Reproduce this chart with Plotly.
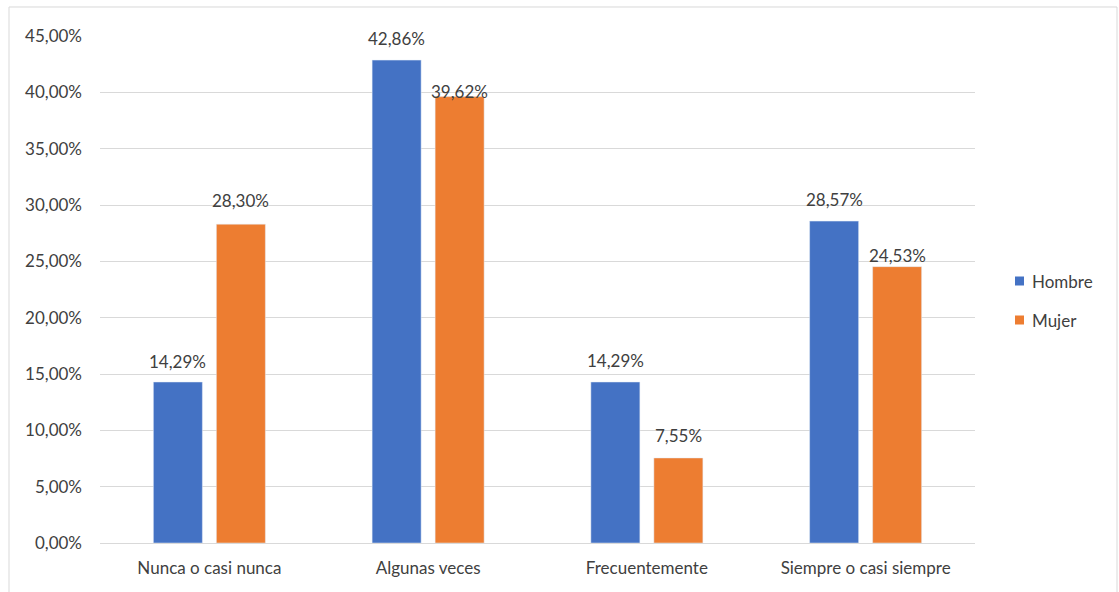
import plotly.graph_objects as go

categorias = ["Nunca o casi nunca", "Algunas veces", "Frecuentemente", "Siempre o casi siempre"]
hombre = [14.29, 42.86, 14.29, 28.57]
mujer = [28.30, 39.62, 7.55, 24.53]
ticks_y = [0, 5, 10, 15, 20, 25, 30, 35, 40, 45]
series = [("Hombre", hombre, "#4472C4"), ("Mujer", mujer, "#ED7D31")]

# Separación vertical (px) de cada etiqueta respecto al extremo de su barra
ajuste_etiquetas = {"Hombre": [8.5, 9.5, 9, 9], "Mujer": [11, -7, 10, -1]}

TEXTO = "#404040"
FUENTE = "Lato"
TAM = 17


def pct(v):
    return f"{v:.2f}%".replace(".", ",")


fig = go.Figure()
for nombre, valores, color in series:
    fig.add_trace(go.Bar(x=categorias, y=valores, name=nombre,
                         marker_color=color, showlegend=False))

# Etiquetas de datos sobre cada barra
for (nombre, valores, color), desplaz in zip(series, (-31.5, 31.5)):
    for cat, val, dy in zip(categorias, valores, ajuste_etiquetas[nombre]):
        fig.add_annotation(x=cat, y=val, text=pct(val),
                           showarrow=False, xshift=desplaz, yshift=dy,
                           yanchor="bottom",
                           font=dict(family=FUENTE, size=TAM, color=TEXTO))

# Leyenda a la derecha
for i, (nombre, valores, color) in enumerate(series):
    yc = (543 - (281 + 39 * i)) / 507
    x0 = (1015 - 100) / 875
    x1 = (1024 - 100) / 875
    h = 4.5 / 507
    fig.add_shape(type="rect", xref="paper", yref="paper",
                  x0=x0, x1=x1, y0=yc - h, y1=yc + h,
                  fillcolor=color, line=dict(width=0))
    fig.add_annotation(xref="paper", yref="paper", x=(1030 - 100) / 875, y=yc,
                       text=nombre, showarrow=False, xanchor="left",
                       yanchor="middle",
                       font=dict(family=FUENTE, size=TAM, color=TEXTO))

# Borde del área del gráfico
fig.add_shape(type="rect", xref="paper", yref="paper",
              x0=-0.104, x1=1.1623, y0=-0.12, y1=1.0572,
              line=dict(color="#D9D9D9", width=1), layer="below")

fig.update_layout(
    width=1119, height=592,
    margin=dict(l=100, r=144, t=36, b=49),
    plot_bgcolor="white", paper_bgcolor="white",
    barmode="group", bargap=0.424, bargroupgap=0.222,
    font=dict(family=FUENTE, size=TAM, color=TEXTO),
    showlegend=False,
    xaxis=dict(showline=False, ticks="", ticklabelstandoff=13,
               tickfont=dict(size=TAM, color=TEXTO)),
    yaxis=dict(range=[0, 45], tickvals=ticks_y,
               ticktext=[pct(v) for v in ticks_y],
               showgrid=True, gridcolor="#D9D9D9", gridwidth=1,
               zeroline=True, zerolinecolor="#D9D9D9", zerolinewidth=1,
               ticks="", ticklabelstandoff=17,
               tickfont=dict(size=TAM, color=TEXTO)),
)

fig.write_html("out.html")
